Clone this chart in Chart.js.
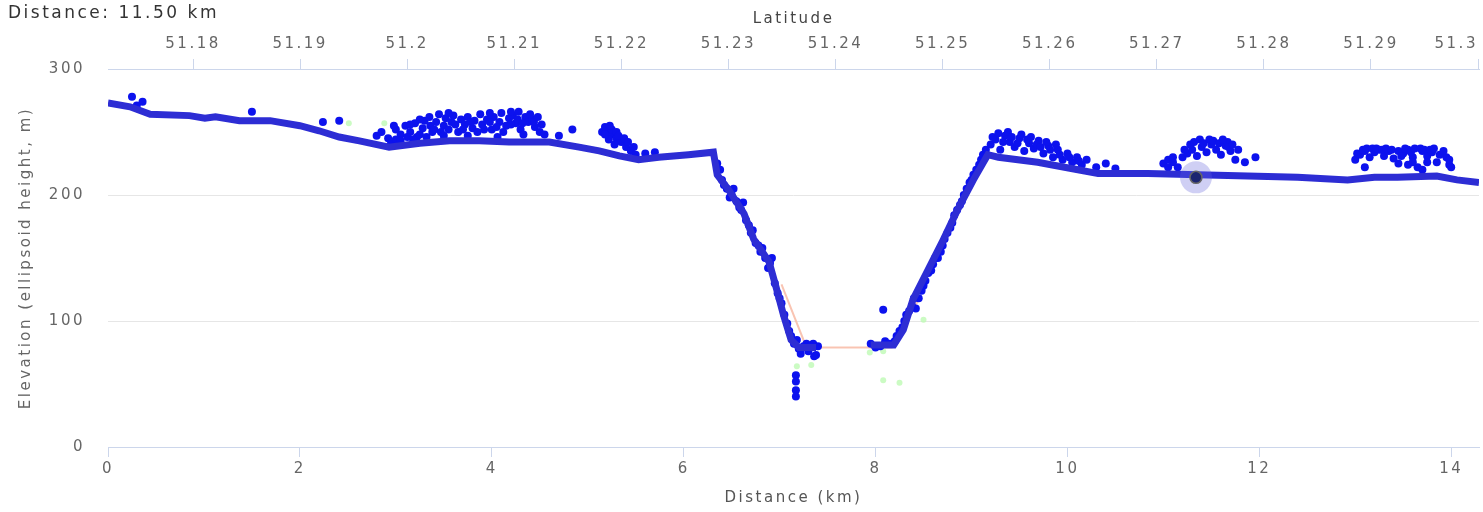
<!DOCTYPE html>
<html>
<head>
<meta charset="utf-8">
<script src="https://cdn.jsdelivr.net/npm/chart.js@4/dist/chart.umd.min.js"></script>
<style>
  html, body { margin: 0; padding: 0; background: #fff; }
  #wrap { width: 1483px; height: 512px; position: relative; }
</style>
</head>
<body>
<div id="wrap"><canvas id="chart"></canvas></div>
<script>
// profile line along the track: [distance km, elevation m]
const profile = [
  [0, 273], [0.23, 270], [0.44, 264], [0.85, 263], [1.01, 261], [1.12, 262], [1.37, 259],
  [1.69, 259], [2.0, 255], [2.2, 251], [2.41, 246], [2.62, 243], [2.93, 238], [3.25, 241],
  [3.56, 243], [3.87, 243], [4.18, 242], [4.6, 242], [4.91, 238], [5.12, 235], [5.33, 231],
  [5.53, 228], [5.74, 230], [6.05, 232], [6.31, 234], [6.35, 216], [6.47, 204], [6.63, 185],
  [6.73, 165], [6.89, 147], [6.97, 125], [7.04, 105], [7.12, 85], [7.2, 79], [7.38, 79],
  [null, null],
  [7.95, 81], [8.19, 81], [8.29, 93], [8.39, 117], [8.55, 141], [8.71, 165], [8.86, 189],
  [9.02, 212], [9.17, 232], [9.28, 230], [9.69, 226], [10.11, 220], [10.32, 217], [10.84, 217],
  [11.36, 216], [11.88, 215], [12.4, 214], [12.92, 212], [13.2, 214], [13.44, 214], [13.85, 215],
  [14.06, 212], [14.29, 210]
];

// scattered GPS elevation points
const scatterPts = [
  [0.25, 278], [0.36, 274], [0.3, 271], [1.5, 266], [2.24, 258], [2.41, 259],
  // 2.8 - 4.8 km
  [2.8, 247], [2.85, 250], [2.92, 245], [3.0, 252], [3.05, 248], [3.1, 255], [3.15, 250],
  [3.2, 257], [3.22, 246], [3.28, 253], [3.3, 259], [3.35, 262], [3.38, 250], [3.42, 258],
  [3.45, 264], [3.5, 255], [3.52, 261], [3.58, 258], [3.6, 263], [3.65, 250], [3.68, 260],
  [3.72, 256], [3.75, 262], [3.8, 253], [3.82, 259], [3.88, 264], [3.9, 256], [3.95, 260],
  [4.0, 252], [4.02, 262], [4.08, 258], [4.1, 265], [4.15, 255], [4.18, 261], [4.22, 263],
  [4.25, 257], [4.28, 266], [4.3, 252], [4.35, 262], [4.38, 258], [4.42, 260], [4.45, 254],
  [4.5, 250], [4.7, 247], [4.84, 252],
  [2.95, 241], [3.0, 244], [3.05, 243], [3.12, 246], [3.18, 244], [3.25, 248], [3.32, 246],
  [3.36, 255], [3.4, 252], [3.47, 250], [3.55, 252], [3.62, 256], [3.7, 252], [3.78, 258],
  [3.85, 250], [3.92, 252], [3.98, 258], [4.05, 254], [4.12, 250], [4.2, 256], [4.27, 260],
  [4.32, 257], [4.4, 264], [4.44, 258], [4.48, 262], [4.52, 256], [4.55, 248], [4.33, 248],
  [4.06, 246], [3.75, 247], [3.5, 247], [3.25, 260], [3.55, 265], [3.98, 265], [4.2, 266],
  [3.15, 256], [2.98, 255],
  // 5.1 - 5.7 km
  [5.15, 250], [5.2, 252], [5.25, 248], [5.3, 245], [5.35, 242], [5.4, 238], [5.45, 235],
  [5.28, 240], [5.22, 244], [5.5, 232], [5.6, 233], [5.7, 234], [5.18, 248], [5.25, 252],
  [5.3, 250], [5.32, 247], [5.38, 245], [5.42, 242], [5.48, 238], [5.18, 254], [5.23, 255],
  // left slope
  [6.35, 225], [6.4, 212], [6.45, 205], [6.5, 200], [6.55, 195], [6.6, 188], [6.65, 180],
  [6.7, 170], [6.75, 162], [6.8, 155], [6.85, 150], [6.9, 146], [6.95, 130], [7.0, 118],
  [7.05, 105], [7.1, 92], [7.15, 82], [7.2, 78], [7.25, 80], [7.3, 76], [7.35, 82], [7.38, 73],
  [6.38, 220], [6.42, 208], [6.48, 198], [6.52, 205], [6.58, 190], [6.62, 194], [6.68, 176],
  [6.72, 172], [6.78, 160], [6.82, 158], [6.88, 142], [6.92, 150], [6.98, 122], [7.02, 114],
  [7.08, 98], [7.12, 88], [7.18, 85], [7.22, 74], [7.28, 82], [7.32, 80], [7.4, 80], [7.36, 72],
  [7.17, 57], [7.17, 52], [7.17, 45], [7.17, 40], [8.08, 109],
  // right slope
  [7.95, 82], [8.05, 80], [8.15, 82], [8.22, 88], [8.28, 95], [8.32, 105], [8.38, 112],
  [8.45, 118], [8.5, 128], [8.55, 138], [8.6, 145], [8.65, 150], [8.7, 160], [8.75, 170],
  [8.8, 178], [8.85, 188], [8.9, 195], [8.95, 205], [9.0, 212], [9.05, 220], [9.1, 228],
  [8.0, 79], [8.1, 84], [8.2, 84], [8.25, 92], [8.3, 100], [8.35, 108], [8.4, 118], [8.42, 110],
  [8.48, 124], [8.52, 132], [8.58, 140], [8.62, 150], [8.68, 155], [8.72, 165], [8.78, 174],
  [8.82, 184], [8.88, 192], [8.92, 200], [8.98, 210], [9.02, 216], [9.08, 224], [9.12, 232],
  [9.15, 236],
  // 9.2 - 10.5 km
  [9.2, 240], [9.25, 244], [9.3, 236], [9.35, 247], [9.4, 242], [9.45, 238], [9.5, 245],
  [9.55, 235], [9.6, 241], [9.65, 237], [9.7, 243], [9.75, 233], [9.8, 239], [9.85, 230],
  [9.9, 236], [9.95, 228], [10.0, 233], [10.05, 226], [10.1, 230], [10.15, 224], [10.2, 228],
  [10.3, 222], [10.4, 225], [10.5, 221],
  [9.22, 246], [9.28, 249], [9.33, 242], [9.38, 250], [9.42, 246], [9.48, 241], [9.52, 248],
  [9.58, 244], [9.62, 246], [9.68, 240], [9.72, 238], [9.78, 242], [9.82, 236], [9.88, 240],
  [9.92, 232], [10.02, 230], [10.12, 227],
  // 11.0 - 12.0 km
  [11.0, 225], [11.05, 228], [11.1, 226], [11.15, 222], [11.2, 230], [11.25, 233], [11.3, 236],
  [11.35, 231], [11.4, 238], [11.45, 234], [11.5, 240], [11.55, 236], [11.6, 232], [11.65, 239],
  [11.67, 242], [11.7, 235], [11.75, 228], [11.85, 226], [11.96, 230],
  [11.22, 236], [11.28, 240], [11.32, 242], [11.38, 244], [11.42, 241], [11.48, 244],
  [11.52, 243], [11.58, 241], [11.62, 244], [11.68, 238], [11.72, 240], [11.78, 236],
  [11.1, 230], [11.05, 222],
  // 13.0 - 14.0 km
  [13.0, 228], [13.05, 232], [13.1, 235], [13.15, 230], [13.2, 234], [13.25, 236], [13.3, 231],
  [13.35, 235], [13.4, 229], [13.5, 233], [13.55, 236], [13.6, 230], [13.65, 222], [13.7, 235],
  [13.75, 231], [13.8, 234], [13.85, 226], [13.95, 230], [14.0, 222], [13.1, 222], [13.55, 224],
  [13.7, 220], [13.98, 224],
  [13.02, 233], [13.08, 236], [13.12, 237], [13.18, 237], [13.22, 237], [13.28, 236],
  [13.32, 237], [13.38, 236], [13.45, 235], [13.48, 231], [13.52, 237], [13.58, 234],
  [13.62, 237], [13.68, 237], [13.72, 236], [13.78, 236], [13.82, 237], [13.88, 232],
  [13.92, 235], [13.98, 228], [13.45, 225], [13.6, 226], [13.75, 226]
];

// interpolated reference line across the gap
const refLine = [[7.02, 129], [7.28, 79], [8.17, 79], [8.45, 117]];

// faint filtered-out points
const greenPts = [
  [2.51, 257], [2.88, 257], [7.18, 64], [7.33, 65], [7.94, 75], [8.08, 76], [8.5, 101],
  [8.08, 53], [8.25, 51]
];

// hovered point
const hoverPt = [[11.34, 214]];

const distTicks = { min: 0, max: 14.29, step: 2 };
const latTicks = { min: 51.17206, max: 51.30009, step: 0.01 };
const elevTicks = { min: 0, max: 300, step: 100 };

const toXY = arr => arr.map(p => ({ x: p[0], y: p[1] }));

const FONT = "'DejaVu Sans', sans-serif";
const axisColor = '#ccd6eb';

const spacingPlugin = {
  id: 'spacing',
  beforeDraw(chart) {
    chart.ctx.letterSpacing = '2.5px';
  },
  afterDraw(chart) {
    const ctx = chart.ctx;
    ctx.save();
    ctx.letterSpacing = '2.5px';
    ctx.font = '17px ' + FONT;
    ctx.fillStyle = '#333';
    ctx.textBaseline = 'middle';
    ctx.textAlign = 'left';
    ctx.fillText('Distance: 11.50 km', 8, 14);
    ctx.restore();
  }
};

const noSidePad = h => s => { s.height = h; s.paddingLeft = 0; s.paddingRight = 0; };

// last latitude label is kept inside the plot edge
const latLabel = (v, i, ticks) => {
  const txt = String(+v.toFixed(2));
  return i === ticks.length - 1 ? txt + '      ' : txt;
};

new Chart(document.getElementById('chart'), {
  type: 'scatter',
  data: {
    datasets: [
      {
        data: toXY(hoverPt),
        pointRadius: 6,
        backgroundColor: '#1c2470',
        borderColor: '#666',
        borderWidth: 1.5
      },
      {
        data: toXY(hoverPt),
        pointRadius: 16,
        backgroundColor: 'rgba(95,95,220,0.3)',
        borderWidth: 0
      },
      {
        type: 'line',
        data: toXY(profile),
        borderColor: 'rgb(45,45,212)',
        borderWidth: 7,
        pointRadius: 0,
        spanGaps: false,
        tension: 0
      },
      {
        data: toXY(scatterPts),
        pointRadius: 4,
        backgroundColor: 'rgb(12,18,238)',
        borderWidth: 0
      },
      {
        data: toXY(greenPts),
        pointRadius: 3,
        backgroundColor: 'rgba(190,250,180,0.8)',
        borderWidth: 0
      },
      {
        type: 'line',
        data: toXY(refLine),
        borderColor: 'rgba(248,190,170,0.9)',
        borderWidth: 2,
        pointRadius: 0,
        tension: 0
      }
    ]
  },
  options: {
    responsive: true,
    maintainAspectRatio: false,
    animation: false,
    layout: { autoPadding: false, padding: { left: 0, right: 4, top: 0, bottom: 0 } },
    plugins: {
      legend: { display: false },
      tooltip: { enabled: false }
    },
    scales: {
      x: {
        type: 'linear',
        position: 'bottom',
        min: distTicks.min,
        max: distTicks.max,
        afterFit: noSidePad(65),
        ticks: {
          stepSize: distTicks.step,
          includeBounds: false,
          color: '#666',
          padding: 3,
          maxRotation: 0,
          font: { family: FONT, size: 15 }
        },
        grid: { drawOnChartArea: false, color: axisColor, tickLength: 10 },
        border: { color: axisColor },
        title: {
          display: true,
          text: 'Distance (km)',
          color: '#555',
          font: { family: FONT, size: 15 },
          padding: { top: 0, bottom: 5 }
        }
      },
      x2: {
        type: 'linear',
        position: 'top',
        min: latTicks.min,
        max: latTicks.max,
        afterFit: noSidePad(69),
        ticks: {
          stepSize: latTicks.step,
          includeBounds: false,
          color: '#666',
          padding: 6,
          maxRotation: 0,
          autoSkip: false,
          font: { family: FONT, size: 15 },
          callback: latLabel
        },
        grid: { drawOnChartArea: false, color: axisColor, tickLength: 10 },
        border: { color: axisColor },
        title: {
          display: true,
          text: 'Latitude',
          color: '#444',
          font: { family: FONT, size: 15 },
          padding: { top: 10, bottom: 0 }
        }
      },
      y: {
        min: elevTicks.min,
        max: elevTicks.max,
        afterFit: s => { s.width = 108; },
        ticks: {
          stepSize: elevTicks.step,
          color: '#666',
          padding: 23,
          font: { family: FONT, size: 15 }
        },
        grid: { color: '#e6e6e6', drawTicks: false, tickLength: 0 },
        border: { display: false },
        title: {
          display: true,
          text: 'Elevation (ellipsoid height, m)',
          color: '#666',
          font: { family: FONT, size: 15 },
          padding: { top: 17, bottom: 0 }
        }
      }
    }
  },
  plugins: [spacingPlugin]
});
</script>
</body>
</html>
